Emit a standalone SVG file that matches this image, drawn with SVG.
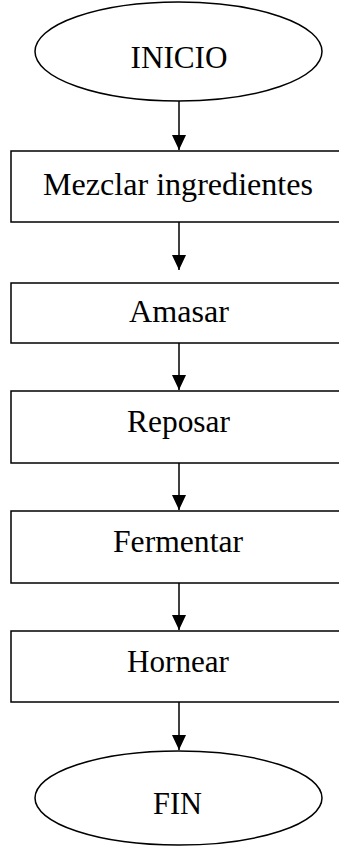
<svg xmlns="http://www.w3.org/2000/svg" width="339" height="846" viewBox="0 0 339 846">
<defs>
<marker id="ah" markerUnits="userSpaceOnUse" markerWidth="16" markerHeight="16" refX="15" refY="7" orient="auto" viewBox="0 0 16 14">
<path d="M0,0 L15,7 L0,14 Z" fill="#000"/>
</marker>
<style>
.shape{fill:#fff;stroke:#000;stroke-width:1.5}
.lbl{font-family:"Liberation Serif","Times New Roman",serif;font-size:31px;fill:#000;text-anchor:middle}
.conn{stroke:#000;stroke-width:1.5;fill:none;marker-end:url(#ah)}
</style>
</defs>
<rect width="339" height="846" fill="#fff"/>
<g id="connectors">
<line class="conn" x1="179" y1="101" x2="179" y2="150"/>
<line class="conn" x1="179" y1="222" x2="179" y2="270"/>
<line class="conn" x1="179" y1="343" x2="179" y2="390"/>
<line class="conn" x1="179" y1="463" x2="179" y2="510"/>
<line class="conn" x1="179" y1="583" x2="179" y2="630"/>
<line class="conn" x1="179" y1="702" x2="179" y2="750"/>
</g>
<g id="inicio">
<ellipse class="shape" cx="178.5" cy="51.5" rx="143.5" ry="49.5"/>
<text class="lbl" x="179" y="68" textLength="97" lengthAdjust="spacingAndGlyphs">INICIO</text>
</g>
<g id="mezclar">
<rect class="shape" x="11" y="151" width="336" height="71"/>
<text class="lbl" x="178" y="195" textLength="270" lengthAdjust="spacingAndGlyphs">Mezclar ingredientes</text>
</g>
<g id="amasar">
<rect class="shape" x="11" y="283" width="336" height="60"/>
<text class="lbl" x="179" y="322" textLength="100" lengthAdjust="spacingAndGlyphs">Amasar</text>
</g>
<g id="reposar">
<rect class="shape" x="11" y="391" width="336" height="72"/>
<text class="lbl" x="178.5" y="432" textLength="103" lengthAdjust="spacingAndGlyphs">Reposar</text>
</g>
<g id="fermentar">
<rect class="shape" x="11" y="511" width="336" height="72"/>
<text class="lbl" x="178" y="552" textLength="130" lengthAdjust="spacingAndGlyphs">Fermentar</text>
</g>
<g id="hornear">
<rect class="shape" x="11" y="631" width="336" height="71"/>
<text class="lbl" x="178" y="672" textLength="102" lengthAdjust="spacingAndGlyphs">Hornear</text>
</g>
<g id="fin">
<ellipse class="shape" cx="178.5" cy="798" rx="143.5" ry="47"/>
<text class="lbl" x="177.5" y="814" textLength="49" lengthAdjust="spacingAndGlyphs">FIN</text>
</g>
</svg>
